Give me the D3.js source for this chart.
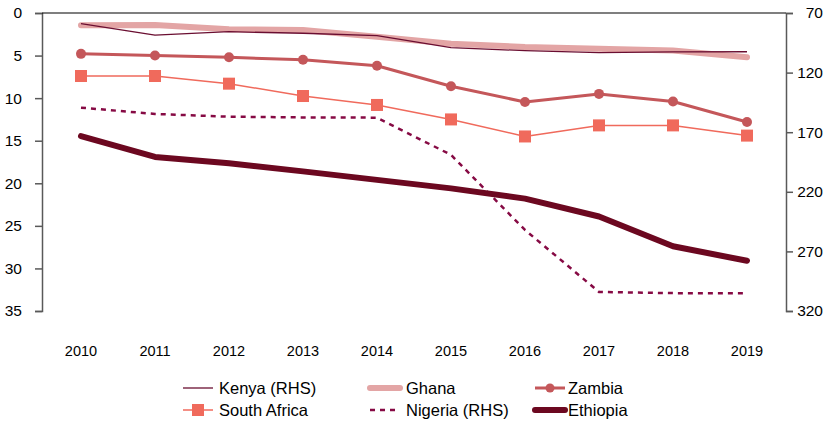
<!DOCTYPE html>
<html>
<head>
<meta charset="utf-8">
<script src="https://cdn.jsdelivr.net/npm/d3@7"></script>
<style>
  body { margin: 0; background: #fff; }
  svg { font-family: "Liberation Sans", Arial, sans-serif; }
</style>
</head>
<body>
<svg id="chart" width="828" height="422"></svg>
<script>
const years = [2010, 2011, 2012, 2013, 2014, 2015, 2016, 2017, 2018, 2019];
const leftTicks = [0, 5, 10, 15, 20, 25, 30, 35];
const rightTicks = [70, 120, 170, 220, 270, 320];

// RHS series
const kenya = [79, 88.5, 85.7, 87, 89, 99, 101.6, 103.3, 102.6, 102.5];
const nigeria = [149.4, 154.7, 157, 157.6, 157.8, 189, 252, 304, 305, 305.2];
// LHS series
const ghana = [1.45, 1.4, 1.9, 2.0, 2.8, 3.6, 4.0, 4.2, 4.4, 5.2];
const zambia = [4.8, 5.0, 5.2, 5.5, 6.2, 8.6, 10.45, 9.5, 10.4, 12.8];
const southAfrica = [7.4, 7.4, 8.3, 9.75, 10.8, 12.5, 14.5, 13.2, 13.2, 14.4];
const ethiopia = [14.45, 16.9, 17.65, 18.6, 19.6, 20.6, 21.8, 23.9, 27.4, 29.1];

const svg = d3.select("#chart");
const plotTop = 13, plotBottom = 311, plotLeft = 42, plotRight = 786;

const x = d3.scaleBand().domain(years).range([44, 784]);
const cx = d => x(d) + x.bandwidth() / 2;
const yL = d3.scaleLinear().domain([0, 35]).range([plotTop, plotBottom]);
const yR = d3.scaleLinear().domain([70, 320]).range([plotTop, plotBottom]);

// left axis
const gL = svg.append("g").attr("transform", `translate(${plotLeft},0)`)
  .call(d3.axisLeft(yL).tickValues(leftTicks).tickSize(7).tickPadding(13));
gL.selectAll("path, line").attr("stroke", "#595959").attr("stroke-width", 1.5);
gL.selectAll("text").attr("font-size", 15.5).attr("fill", "#000")
  .attr("font-family", "Liberation Sans, Arial, sans-serif");

// right axis
const gR = svg.append("g").attr("transform", `translate(${plotRight},0)`)
  .call(d3.axisRight(yR).tickValues(rightTicks).tickSize(7).tickPadding(12));
gR.selectAll("path, line").attr("stroke", "#595959").attr("stroke-width", 1.5);
gR.selectAll("text").attr("font-size", 15.5).attr("fill", "#000")
  .attr("text-anchor", "end").attr("x", 37)
  .attr("font-family", "Liberation Sans, Arial, sans-serif");

// category axis at value 0 (top), labels low
svg.append("line").attr("x1", plotLeft).attr("x2", plotRight)
  .attr("y1", yL(0)).attr("y2", yL(0)).attr("stroke", "#000").attr("stroke-width", 1.2);
svg.append("g").selectAll("text").data(years).join("text")
  .attr("x", d => cx(d)).attr("y", 356)
  .attr("text-anchor", "middle").attr("font-size", 14.5).text(d => d);

const series = [
  { name: "Ghana", data: ghana, y: yL, color: "#E3A5A5", width: 6 },
  { name: "Kenya (RHS)", data: kenya, y: yR, color: "#6A0E31", width: 1.3 },
  { name: "Zambia", data: zambia, y: yL, color: "#C4575A", width: 3, marker: "circle" },
  { name: "South Africa", data: southAfrica, y: yL, color: "#F06A5C", width: 1.5, marker: "square" },
  { name: "Nigeria (RHS)", data: nigeria, y: yR, color: "#860A44", width: 2.5, dash: "5,5" },
  { name: "Ethiopia", data: ethiopia, y: yL, color: "#6C0820", width: 6 }
];

series.forEach(s => {
  const line = d3.line().x((d, i) => cx(years[i])).y(d => s.y(d));
  svg.append("path").datum(s.data).attr("d", line)
    .attr("fill", "none").attr("stroke", s.color).attr("stroke-width", s.width)
    .attr("stroke-dasharray", s.dash || null).attr("stroke-linejoin", "round")
    .attr("stroke-linecap", s.width > 5 ? "round" : "butt");
  if (s.marker === "circle") {
    svg.append("g").selectAll("circle").data(s.data).join("circle")
      .attr("cx", (d, i) => cx(years[i])).attr("cy", d => s.y(d)).attr("r", 5)
      .attr("fill", s.color);
  } else if (s.marker === "square") {
    svg.append("g").selectAll("rect").data(s.data).join("rect")
      .attr("x", (d, i) => cx(years[i]) - 6).attr("y", d => s.y(d) - 6)
      .attr("width", 12).attr("height", 12).attr("fill", s.color);
  }
});

// legend
const legendOrder = ["Kenya (RHS)", "Ghana", "Zambia", "South Africa", "Nigeria (RHS)", "Ethiopia"];
const colX = [183, 370, 535];
const rowY = [388, 410];
legendOrder.forEach((name, k) => {
  const s = series.find(d => d.name === name);
  const lx = colX[k % 3], ly = rowY[Math.floor(k / 3)];
  const g = svg.append("g");
  g.append("line").attr("x1", lx).attr("x2", lx + 30).attr("y1", ly).attr("y2", ly)
    .attr("stroke", s.color).attr("stroke-width", s.width)
    .attr("stroke-dasharray", s.dash || null).attr("stroke-linecap", s.width > 5 ? "round" : "butt");
  if (s.marker === "circle") {
    g.append("circle").attr("cx", lx + 15).attr("cy", ly).attr("r", 4.5).attr("fill", s.color);
  } else if (s.marker === "square") {
    g.append("rect").attr("x", lx + 9).attr("y", ly - 6).attr("width", 12).attr("height", 12).attr("fill", s.color);
  }
  g.append("text").attr("x", colX[k % 3] === 535 ? lx + 33 : lx + 36).attr("y", ly + 6)
    .attr("font-size", 16.5).text(name);
});
</script>
</body>
</html>
